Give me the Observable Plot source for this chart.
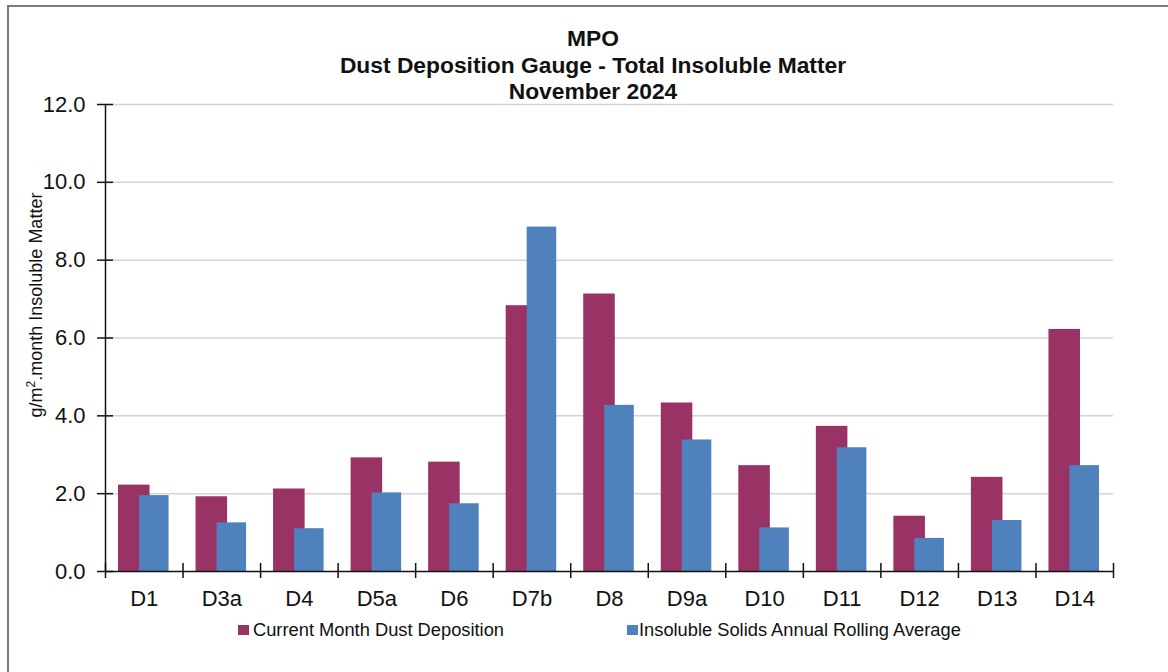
<!DOCTYPE html>
<html>
<head>
<meta charset="utf-8">
<script src="https://cdn.jsdelivr.net/npm/d3@7"></script>
<script src="https://cdn.jsdelivr.net/npm/@observablehq/plot@0.6"></script>
<style>
  html, body { margin: 0; padding: 0; background: #fff; }
  #wrap { position: relative; width: 1168px; height: 672px; overflow: hidden; font-family: "Liberation Sans", Arial, sans-serif; color: #111; }
  #border { position: absolute; left: 7px; top: 5px; width: 1300px; height: 800px; border: 2px solid #7a7a7a; box-sizing: border-box; }
  #chart { position: absolute; left: 0; top: 0; }
  .title { position: absolute; left: 0; width: 1186px; text-align: center; font-weight: bold; font-size: 22.8px; line-height: 26.5px; top: 25px; }
  #ylabel { position: absolute; left: 36px; top: 305px; transform: translate(-50%, -50%) rotate(-90deg); white-space: nowrap; font-size: 18px; }
  #ylabel sup { font-size: 12px; vertical-align: 0.55em; line-height: 0; }
  .leg { position: absolute; top: 619px; font-size: 18.3px; white-space: nowrap; }
  .sw { position: absolute; width: 11px; height: 10px; top: 625px; }
</style>
</head>
<body>
<div id="wrap">
  <div id="border"></div>
  <div id="chart"></div>
  <div class="title">MPO<br>Dust Deposition Gauge - Total Insoluble Matter<br>November 2024</div>
  <div id="ylabel">g/m<sup>2</sup>.month Insoluble Matter</div>
  <div class="sw" style="left:238px;background:#993366"></div>
  <div class="leg" style="left:253px">Current Month Dust Deposition</div>
  <div class="sw" style="left:627px;background:#4F81BD"></div>
  <div class="leg" style="left:639px">Insoluble Solids Annual Rolling Average</div>
</div>
<script>
const sites = ["D1", "D3a", "D4", "D5a", "D6", "D7b", "D8", "D9a", "D10", "D11", "D12", "D13", "D14"];
const currentMonth = [2.22, 1.92, 2.12, 2.92, 2.81, 6.83, 7.13, 4.33, 2.72, 3.73, 1.42, 2.42, 6.22];
const rollingAverage = [1.95, 1.25, 1.10, 2.02, 1.74, 8.85, 4.27, 3.38, 1.12, 3.18, 0.85, 1.31, 2.72];
const yTicks = [0, 2, 4, 6, 8, 10, 12];
const gridTicks = [2, 4, 6, 8, 10, 12];

const rows = sites.map((s, i) => ({site: s, current: currentMonth[i], avg: rollingAverage[i]}));

const W = 1168, H = 672, mL = 105, mR = 55, mT = 104, mB = 101;
const bw = (W - mL - mR) / sites.length;
const innerH = H - mT - mB;

const chart = Plot.plot({
  width: W,
  height: H,
  marginLeft: mL,
  marginRight: mR,
  marginTop: mT,
  marginBottom: mB,
  style: {fontFamily: "'Liberation Sans', Arial, sans-serif", fontSize: "22px", color: "#111", background: "transparent"},
  x: {domain: sites, padding: 0, round: false, label: null},
  y: {domain: [0, 12], label: null},
  marks: [
    Plot.ruleY(gridTicks, {stroke: "#d4d4d4", strokeWidth: 1.5}),
    Plot.barY(rows, {x: "site", y: "current", fill: "#993366", insetLeft: 13, insetRight: 33}),
    Plot.barY(rows, {x: "site", y: "avg", fill: "#4F81BD", insetLeft: 34, insetRight: 14}),
    // y axis line
    Plot.ruleX(rows.slice(0, 1), {x: "site", dx: -bw / 2, stroke: "#111", strokeWidth: 1.5}),
    // x axis line
    Plot.ruleY([0], {stroke: "#111", strokeWidth: 1.5}),
    // y ticks crossing axis
    Plot.ruleY(yTicks, {stroke: "#111", strokeWidth: 1.5, insetLeft: -8, insetRight: W - mL - mR - 8}),
    // x ticks at category boundaries
    Plot.ruleX(rows, {x: "site", dx: -bw / 2, stroke: "#111", strokeWidth: 1.5, insetTop: innerH - 8, insetBottom: -7}),
    Plot.ruleX(rows.slice(-1), {x: "site", dx: bw / 2, stroke: "#111", strokeWidth: 1.5, insetTop: innerH - 8, insetBottom: -7}),
    Plot.axisY({ticks: yTicks, tickSize: 0, tickPadding: 20, tickFormat: d3.format(".1f"), fontSize: 22, label: null}),
    Plot.axisX({tickSize: 0, tickPadding: 19, fontSize: 22, label: null})
  ]
});
document.getElementById("chart").appendChild(chart);
</script>
</body>
</html>
